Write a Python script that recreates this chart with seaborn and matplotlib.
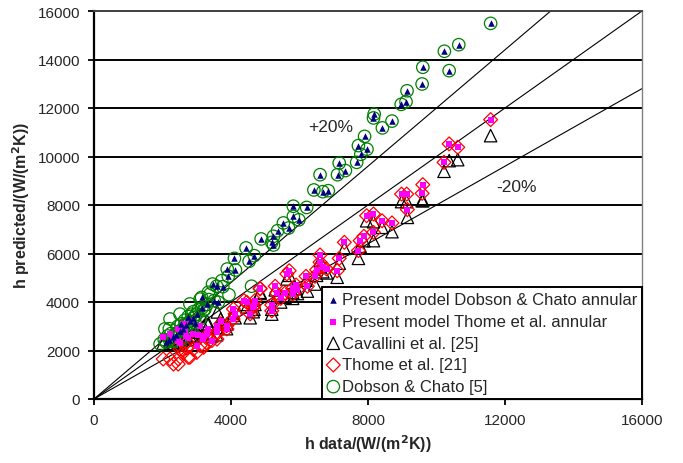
import matplotlib
matplotlib.use("Agg")
import matplotlib.pyplot as plt
import seaborn as sns

# ---------------- data ----------------
# Dobson & Chato branch (present model annular = blue triangles)
dc_model_x = [11580, 10650, 10230, 10370, 9600, 9580, 9140, 9110, 8970, 8180, 8160, 8700, 8420,
              7900, 7720, 7970, 7790, 7670, 7160, 7340, 7110, 6600, 6420, 6680, 6840, 5820, 6210,
              5820, 5980, 5530, 5680, 5360, 5240, 4880, 5190, 5240, 4440, 4680, 4100, 4530, 3890,
              4130, 3920, 3460, 3580, 3760, 3140, 3510, 3630,
              3300, 3150, 3000, 2900, 2800, 2700, 2600, 2500, 2400, 2300, 2200, 2100, 2550, 2750, 2950]
dc_model_y = [15490, 14610, 14340, 13540, 13680, 12990, 12710, 12260, 12150, 11750, 11590, 11460, 11180,
              10830, 10450, 10300, 10090, 9760, 9730, 9420, 9250, 9250, 8620, 8550, 8590, 7950, 7900,
              7530, 7390, 7260, 7050, 6940, 6710, 6600, 6460, 6350, 6230, 5910, 5800, 5680, 5360,
              5320, 5060, 4740, 4650, 4630, 4190, 4060, 3990,
              3900, 3750, 3500, 3350, 3200, 3050, 2900, 2800, 2650, 2550, 2450, 2350, 3100, 3400, 3150]

# Dobson & Chato correlation (green circles)
dc_corr_x = dc_model_x + [3730, 3940, 3340, 4600, 1930, 2050, 2150, 2250, 2350, 2450, 2650, 2850,
                          3050, 3200, 3350, 2600, 2700, 2800, 2900, 3100, 2450, 2200,
                          2070, 2220, 2370, 2510, 2660, 2800, 2950, 3100, 3240, 3390, 2280, 2570, 2860]
dc_corr_y = dc_model_y + [4880, 4300, 4400, 4650, 2270, 2450, 2600, 2700, 2400, 3000, 3250, 3500,
                          3700, 3650, 4100, 2600, 2800, 2950, 3600, 3300, 2750, 2900,
                          2890, 3300, 2680, 3500, 3090, 3920, 3380, 4120, 3710, 4330, 2390, 2470, 2890]

# Thome et al. branch: same data points, three predictions
th_x = [11580, 10370, 10620, 10220, 9600, 9580, 8980, 9130, 9150, 7960, 8160, 8410, 8700, 7880,
        8160, 7770, 7310, 7720, 6600, 7160, 6600, 6680, 6790, 6500, 7100, 5700, 6190, 6450, 5900,
        6230, 5290, 5800, 5940, 4850, 5330, 5580, 5450, 5800, 5190, 5190, 4700, 4650, 4380, 4670,
        4560, 4070, 4460, 4850, 5630, 4120, 3870, 3580, 3440, 3300, 3200, 3100, 3000, 2900, 2800,
        2750, 2600, 2460, 2460, 2320, 2220, 2020, 3600, 3700, 2500, 2700,
        2510, 3180, 3590, 3880, 4060, 3040, 3330, 2660]
th_model_y = [11520, 10520, 10380, 9760, 8840, 8480, 8450, 8450, 7810, 7560, 7630, 7350, 7260, 6710,
              6870, 6530, 6460, 6120, 5940, 5800, 5640, 5430, 5360, 5330, 5290, 5290, 5060, 5060, 4700,
              4650, 4650, 4560, 4510, 4560, 4370, 4370, 4150, 4330, 3880, 3640, 4060, 3780, 4060, 3850,
              3510, 3710, 3990, 4540, 5160, 3510, 3020, 2750, 2410, 2700, 2600, 3000, 2200, 2700, 3200,
              2500, 3100, 2900, 2400, 2500, 2700, 2560, 3000, 3200, 2300, 2600,
              2900, 2470, 2800, 2890, 3300, 2650, 2900, 2750]
thome_y = [11520, 10520, 10380, 9760, 8840, 8480, 8450, 8450, 7810, 7560, 7630, 7350, 7260, 6710,
           6870, 6530, 6460, 6120, 5940, 5800, 5640, 5430, 5360, 5330, 5290, 5290, 5060, 5060, 4700,
           4650, 4650, 4560, 4510, 4560, 4370, 4370, 4150, 4330, 3880, 3640, 4060, 3780, 4060, 3850,
           3510, 3710, 3990, 4540, 5160, 3510, 3020, 2750, 2410, 2300, 2130, 2200, 1920, 2050, 1720,
           1720, 1900, 1440, 1650, 1440, 1650, 1650, 2700, 3100, 2200, 2100,
           2060, 2190, 2470, 2890, 3300, 2470, 2680, 2270]
cavallini_y = [10860, 9830, 9870, 9390, 8180, 8180, 8140, 8140, 7490, 7350, 7310, 7080, 6900, 6530,
               6530, 6300, 6210, 5800, 5700, 5600, 5450, 5250, 5200, 5100, 5020, 5100, 4900, 4740, 4550,
               4450, 4500, 4400, 4350, 4400, 4200, 4200, 4000, 4150, 3700, 3500, 3900, 3600, 3900, 3700,
               3350, 3550, 3800, 4350, 4950, 3350, 2900, 2650, 2600, 3220, 3000, 2800, 2800, 2600, 2600,
               2450, 2500, 2300, 2350, 2300, 2400, 2300, 3590, 3300, 2450, 2550,
               2350, 2700, 2950, 3100, 3450, 2750, 3050, 2500]

x_ticks = [0, 4000, 8000, 12000, 16000]
y_ticks = [0, 2000, 4000, 6000, 8000, 10000, 12000, 14000, 16000]

# ---------------- plot ----------------
sns.set_theme(style="white")
plt.rcParams["font.family"] = ["Liberation Sans", "DejaVu Sans"]

fig = plt.figure(figsize=(6.83, 4.64), dpi=100)
ax = fig.add_axes([94 / 683, 1 - 400 / 464, 548 / 683, 388 / 464])

ax.set_xlim(0, 16000)
ax.set_ylim(0, 16000)

for yv in y_ticks[1:-1]:
    ax.axhline(yv, color="black", lw=1.4, zorder=1)

for slope in (1.2, 1.0, 0.8):
    ax.axline((0, 0), slope=slope, color="black", lw=0.8, zorder=2)

sns.scatterplot(x=th_x, y=cavallini_y, ax=ax, marker="^", s=80, facecolor="none",
                edgecolor="black", linewidth=0.9, zorder=3, label="Cavallini et al. [25]")
sns.scatterplot(x=th_x, y=thome_y, ax=ax, marker="D", s=50, facecolor="none",
                edgecolor="red", linewidth=0.9, zorder=4, label="Thome et al. [21]")
sns.scatterplot(x=dc_corr_x, y=dc_corr_y, ax=ax, marker="o", s=80, facecolor="none",
                edgecolor="green", linewidth=0.9, zorder=5, label="Dobson & Chato [5]")
sns.scatterplot(x=th_x, y=th_model_y, ax=ax, marker="s", s=16, color="magenta",
                edgecolor="magenta", linewidth=0, zorder=6,
                label="Present model Thome et al. annular")
sns.scatterplot(x=dc_model_x, y=dc_model_y, ax=ax, marker="^", s=22, color="#000080",
                edgecolor="#000080", linewidth=0, zorder=7,
                label="Present model Dobson & Chato annular")

ax.text(6900, 11250, "+20%", fontsize=12.5, ha="center", va="center", zorder=8)
ax.text(12350, 8780, "-20%", fontsize=12.5, ha="center", va="center", zorder=8)

ax.set_xticks(x_ticks)
ax.set_yticks(y_ticks)
ax.tick_params(axis="both", which="major", direction="out", length=4, width=1.3,
               color="black", labelsize=11, pad=6, bottom=True, left=True)

for side in ("left", "bottom"):
    ax.spines[side].set_color("black")
    ax.spines[side].set_linewidth(1.6)
ax.spines["top"].set_color("#404040")
ax.spines["top"].set_linewidth(1.4)
ax.spines["right"].set_color("#808080")
ax.spines["right"].set_linewidth(1.0)

ax.set_xlabel(r"h data/(W/(m$^\mathbf{2}$K))", fontsize=11.5, fontweight="bold", labelpad=4)
ax.set_ylabel(r"h predicted/(W/(m$^\mathbf{2}$K))", fontsize=11.5, fontweight="bold", labelpad=4)

handles, labels = ax.get_legend_handles_labels()
order = ["Present model Dobson & Chato annular", "Present model Thome et al. annular",
         "Cavallini et al. [25]", "Thome et al. [21]", "Dobson & Chato [5]"]
hmap = dict(zip(labels, handles))
leg = ax.legend([hmap[k] for k in order], order, loc="lower right", borderaxespad=0,
                fontsize=12, frameon=True, fancybox=False, handletextpad=0.1,
                handlelength=0.8, labelspacing=0.4, borderpad=0.3, framealpha=1)
leg.get_frame().set_edgecolor("black")
leg.get_frame().set_linewidth(1.4)
leg.set_zorder(10)

fig.savefig("out.png", dpi=100)
